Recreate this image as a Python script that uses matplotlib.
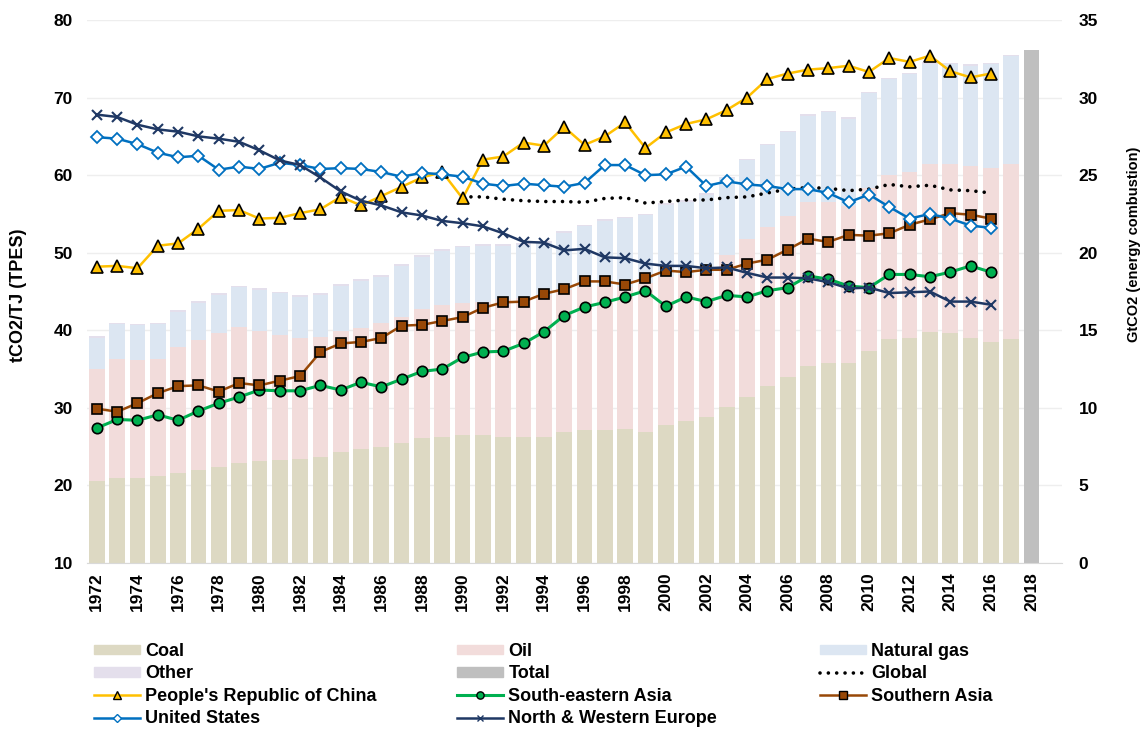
import matplotlib
matplotlib.use('Agg')
import matplotlib.pyplot as plt
from matplotlib.patches import Patch
from matplotlib.lines import Line2D
import numpy as np

plt.rcParams['font.family'] = ['Liberation Sans', 'DejaVu Sans']
plt.rcParams['font.weight'] = 'bold'
plt.rcParams['axes.labelweight'] = 'bold'

# stacked bars, GtCO2 (energy combustion), 1972-2017
bar_years = list(range(1972, 2018))
coal = [5.29, 5.50, 5.50, 5.61, 5.82, 5.99, 6.17, 6.42, 6.57, 6.64,
        6.70, 6.85, 7.13, 7.35, 7.50, 7.76, 8.04, 8.14, 8.25, 8.25,
        8.10, 8.14, 8.14, 8.46, 8.57, 8.57, 8.64, 8.46, 8.90, 9.17,
        9.39, 10.08, 10.68, 11.42, 12.02, 12.70, 12.87, 12.87, 13.68, 14.46,
        14.53, 14.86, 14.82, 14.53, 14.24, 14.42]
oil = [7.19, 7.65, 7.59, 7.54, 8.08, 8.38, 8.63, 8.77, 8.41, 8.06,
       7.78, 7.74, 7.85, 7.82, 7.95, 8.08, 8.34, 8.49, 8.53, 8.55,
       8.90, 8.91, 9.13, 9.14, 9.20, 9.27, 9.16, 9.57, 9.56, 9.38,
       9.28, 9.77, 10.19, 10.26, 10.35, 10.56, 10.43, 10.13, 10.52, 10.57,
       10.67, 10.84, 10.88, 11.05, 11.19, 11.28]
gas = [2.05, 2.24, 2.22, 2.24, 2.31, 2.42, 2.48, 2.59, 2.63, 2.69,
       2.69, 2.69, 2.90, 3.01, 3.01, 3.31, 3.37, 3.51, 3.57, 3.66,
       3.43, 3.45, 3.38, 3.67, 3.92, 4.21, 4.42, 4.37, 4.62, 4.75,
       5.06, 4.95, 5.09, 5.24, 5.39, 5.58, 5.76, 5.65, 6.08, 6.14,
       6.30, 6.47, 6.45, 6.48, 6.72, 6.96]
other = [0.10, 0.10, 0.10, 0.10, 0.10, 0.10, 0.10, 0.10, 0.10, 0.10,
         0.10, 0.10, 0.10, 0.10, 0.10, 0.10, 0.10, 0.10, 0.10, 0.10,
         0.10, 0.10, 0.10, 0.10, 0.10, 0.10, 0.10, 0.10, 0.10, 0.10,
         0.10, 0.10, 0.10, 0.10, 0.10, 0.10, 0.10, 0.10, 0.10, 0.10,
         0.10, 0.10, 0.10, 0.10, 0.10, 0.10]
total_year = [2018]
total = [33.08]

# carbon intensity lines, tCO2/TJ (TPES), 1972-2016
years = list(range(1972, 2017))
china = [48.2, 48.3, 48.0, 50.9, 51.2, 53.1, 55.4, 55.5, 54.4, 54.5,
         55.1, 55.6, 57.2, 56.1, 57.3, 58.5, 59.7, 60.4, 57.0, 62.0,
         62.4, 64.2, 63.8, 66.2, 63.9, 65.0, 66.8, 63.5, 65.5, 66.6,
         67.2, 68.4, 70.0, 72.4, 73.1, 73.6, 73.8, 74.1, 73.3, 75.1,
         74.6, 75.4, 73.4, 72.6, 73.1]
se_asia = [27.4, 28.5, 28.4, 29.1, 28.4, 29.6, 30.6, 31.4, 32.3, 32.2,
           32.2, 32.9, 32.3, 33.3, 32.7, 33.7, 34.7, 35.0, 36.5, 37.2,
           37.3, 38.3, 39.8, 41.9, 43.0, 43.6, 44.3, 45.1, 43.1, 44.3,
           43.7, 44.5, 44.3, 45.1, 45.5, 47.0, 46.6, 45.7, 45.5, 47.2,
           47.2, 46.9, 47.5, 48.3, 47.5]
s_asia = [29.9, 29.5, 30.6, 31.9, 32.8, 32.9, 32.1, 33.2, 32.9, 33.5,
          34.1, 37.2, 38.3, 38.5, 39.0, 40.6, 40.7, 41.2, 41.7, 42.9,
          43.6, 43.7, 44.7, 45.3, 46.3, 46.3, 45.9, 46.7, 47.7, 47.5,
          47.8, 47.8, 48.6, 49.1, 50.4, 51.8, 51.4, 52.3, 52.2, 52.5,
          53.6, 54.3, 55.1, 54.9, 54.4]
us = [64.9, 64.7, 64.0, 62.9, 62.3, 62.5, 60.7, 61.1, 60.8, 61.6,
      61.3, 60.8, 60.9, 60.8, 60.4, 59.8, 60.3, 60.1, 59.8, 58.9,
      58.6, 58.9, 58.7, 58.5, 59.0, 61.3, 61.3, 60.0, 60.1, 61.1,
      58.6, 59.2, 58.8, 58.6, 58.2, 58.2, 57.7, 56.5, 57.5, 55.9,
      54.4, 55.0, 54.4, 53.5, 53.2]
nw_europe = [67.8, 67.5, 66.5, 65.9, 65.6, 65.0, 64.7, 64.3, 63.2, 61.9,
             61.3, 59.7, 57.9, 56.7, 56.1, 55.2, 54.8, 54.1, 53.8, 53.4,
             52.5, 51.4, 51.3, 50.3, 50.5, 49.4, 49.3, 48.6, 48.3, 48.3,
             48.0, 48.1, 47.4, 46.8, 46.8, 46.7, 46.2, 45.4, 45.5, 44.8,
             44.9, 45.0, 43.7, 43.7, 43.3]
global_years = list(range(1990, 2017))
global_ci = [57.2, 57.2, 56.9, 56.7, 56.6, 56.6, 56.5, 57.0, 57.1, 56.4,
             56.6, 56.8, 56.8, 57.1, 57.2, 57.7, 58.2, 58.4, 58.3, 58.0,
             58.2, 58.8, 58.5, 58.7, 58.1, 58.0, 57.7]

tick_years = list(range(1972, 2019, 2))

c_coal = '#DDD9C3'
c_oil = '#F2DCDB'
c_gas = '#DCE6F2'
c_other = '#E4DFEC'
c_total = '#BFBFBF'

fig = plt.figure(figsize=(11.46, 7.29), dpi=100)
ax = fig.add_axes([86.7 / 1146, 1 - 563 / 729, (1062 - 86.7) / 1146, 543 / 729])
ax2 = ax.twinx()   # lines go on top, twinx flips ax ticks so set them after

# bars on the GtCO2 axis
bottom = np.zeros(len(bar_years))
for vals, col in [(coal, c_coal), (oil, c_oil), (gas, c_gas), (other, c_other)]:
    ax.bar(bar_years, vals, bottom=bottom, width=0.77, color=col, zorder=2)
    bottom += np.array(vals)
ax.bar(total_year, total, width=0.77, color=c_total, zorder=2)

ax.set_xlim(1971.5, 2019.5)
ax.set_ylim(0, 35)
ax.set_yticks(range(0, 36, 5))
ax.yaxis.tick_right()
ax.yaxis.set_label_position('right')
ax.set_ylabel('GtCO2 (energy combustion)', fontsize=10.5)
ax.yaxis.set_label_coords(1.0667, 0.586)
ax.yaxis.grid(True, color='#EEEEEE', lw=1)
ax.set_axisbelow(True)
ax.set_xticks(tick_years)
ax.set_xticklabels([str(y) for y in tick_years], rotation=90)
ax.tick_params(axis='x', length=0, pad=7, labelsize=12.5)
ax.tick_params(axis='y', length=0, pad=12, labelsize=12.5)
for s in ['top', 'left', 'right']:
    ax.spines[s].set_visible(False)
ax.spines['bottom'].set_color('#D9D9D9')

# lines on the tCO2/TJ axis
ax2.plot(global_years, global_ci, color='black', lw=2.6,
         linestyle=(0, (0.01, 2.3)), dash_capstyle='round')
ax2.plot(years, china, color='#FFC000', lw=1.8, marker='^', ms=8,
         mfc='#FFC000', mec='black', mew=1.2)
ax2.plot(years, se_asia, color='#00B050', lw=2.2, marker='o', ms=7.5,
         mfc='#00B050', mec='black', mew=1.2)
ax2.plot(years, s_asia, color='#984807', lw=1.8, marker='s', ms=7.5,
         mfc='#984807', mec='black', mew=1.2)
ax2.plot(years, us, color='#0070C0', lw=1.8, marker='D', ms=6.5,
         mfc='white', mec='#0070C0', mew=1.3)
ax2.plot(years, nw_europe, color='#1F3864', lw=1.8, marker='x', ms=7,
         mec='#1F3864', mew=1.5)
ax2.set_ylim(10, 80)
ax2.set_yticks(range(10, 81, 10))
ax2.yaxis.tick_left()
ax2.yaxis.set_label_position('left')
ax2.set_ylabel('tCO2/TJ (TPES)', fontsize=13)
ax2.yaxis.set_label_coords(-0.061, 0.494)
ax2.tick_params(axis='y', length=0, pad=10, labelsize=12.5)
for s in ax2.spines.values():
    s.set_visible(False)

# legend, three columns placed like the original
col1 = [Patch(color=c_coal), Patch(color=c_other),
        Line2D([], [], color='#FFC000', lw=1.8, marker='^', ms=8, mfc='#FFC000', mec='black'),
        Line2D([], [], color='#0070C0', lw=1.8, marker='D', ms=6.5, mfc='white', mec='#0070C0')]
lab1 = ['Coal', 'Other', "People's Republic of China", 'United States']
col2 = [Patch(color=c_oil), Patch(color=c_total),
        Line2D([], [], color='#00B050', lw=2.2, marker='o', ms=7.5, mfc='#00B050', mec='black'),
        Line2D([], [], color='#1F3864', lw=1.8, marker='x', ms=7, mec='#1F3864')]
lab2 = ['Oil', 'Total', 'South-eastern Asia', 'North & Western Europe']
col3 = [Patch(color=c_gas),
        Line2D([], [], color='black', lw=2.6, linestyle=(0, (0.01, 2.3)), dash_capstyle='round'),
        Line2D([], [], color='#984807', lw=1.8, marker='s', ms=7.5, mfc='#984807', mec='black')]
lab3 = ['Natural gas', 'Global', 'Southern Asia']

for hs, ls, x in [(col1, lab1, 94), (col2, lab2, 457), (col3, lab3, 820)]:
    fig.legend(hs, ls, loc='upper left', bbox_to_anchor=(x / 1146, 1 - 643 / 729),
               frameon=False, fontsize=13, handlelength=2.55, handleheight=0.45,
               handletextpad=0.3, labelspacing=0.3, borderpad=0, borderaxespad=0,
               markerscale=0.7)

fig.savefig('out.png', dpi=100)
